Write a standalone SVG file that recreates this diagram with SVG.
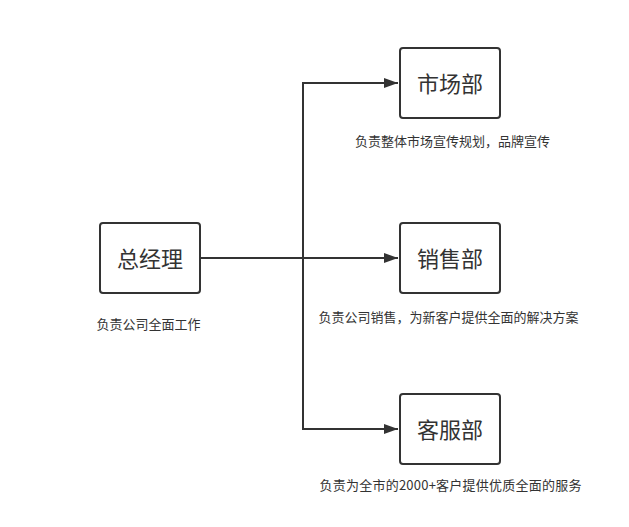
<svg xmlns="http://www.w3.org/2000/svg" width="629" height="527" viewBox="0 0 629 527">
<style>
.box{fill:#ffffff;stroke:#333333;stroke-width:2}
.lbl{font-family:"Noto Sans CJK SC","Noto Sans",sans-serif;font-size:22px;fill:#333333;text-anchor:middle}
.note{font-family:"Noto Sans CJK SC","Noto Sans",sans-serif;font-size:13px;fill:#333333;text-anchor:middle}
.edge{fill:none;stroke:#333333;stroke-width:2}
</style>
<defs>
<marker id="arr" markerWidth="14" markerHeight="10" refX="14" refY="5" orient="auto" markerUnits="userSpaceOnUse">
<path d="M0,0 L14,5 L0,10 Z" fill="#333333"/>
</marker>
</defs>
<rect width="629" height="527" fill="#ffffff"/>
<g id="connectors">
<path class="edge" d="M200,258 H398" marker-end="url(#arr)"/>
<path class="edge" d="M303,258 V83 H398" marker-end="url(#arr)"/>
<path class="edge" d="M303,258 V429 H398" marker-end="url(#arr)"/>
</g>
<g id="n-gm">
<rect class="box" x="100" y="223" width="100" height="70" rx="3"/>
<text class="lbl" x="150" y="267">总经理</text>
<text class="note" x="148.5" y="329">负责公司全面工作</text>
</g>
<g id="n-market">
<rect class="box" x="400" y="48" width="100" height="70" rx="3"/>
<text class="lbl" x="450" y="92">市场部</text>
<text class="note" x="452.5" y="146">负责整体市场宣传规划，品牌宣传</text>
</g>
<g id="n-sales">
<rect class="box" x="400" y="223" width="100" height="70" rx="3"/>
<text class="lbl" x="450" y="267">销售部</text>
<text class="note" x="448.5" y="322">负责公司销售，为新客户提供全面的解决方案</text>
</g>
<g id="n-service">
<rect class="box" x="400" y="394" width="100" height="70" rx="3"/>
<text class="lbl" x="450" y="438">客服部</text>
<text class="note" x="450.5" y="490" textLength="262" lengthAdjust="spacing">负责为全市的2000+客户提供优质全面的服务</text>
</g>
</svg>
